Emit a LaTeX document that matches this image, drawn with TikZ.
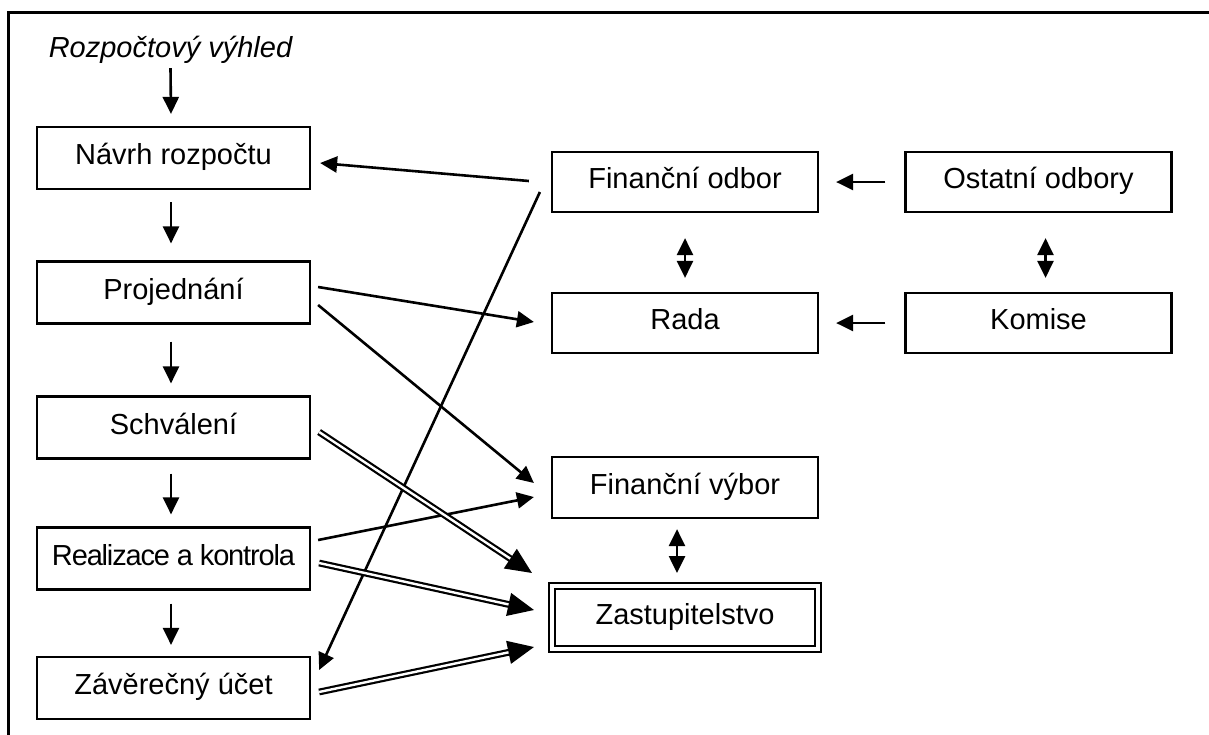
\documentclass[tikz,border=0pt]{standalone}
\usepackage{fontspec}
\setmainfont{Liberation Sans}
\usetikzlibrary{calc,arrows.meta}
\newfontfamily\narrowfont[LetterSpace=-4]{Liberation Sans}
\tikzset{
  box/.style={draw, line width=1.1pt, inner sep=0pt, minimum height=31pt, text height=10.4pt, text depth=3.5pt},
  lbox/.style={box, minimum width=136.5pt},
  rbox/.style={box, minimum width=133pt, minimum height=30pt},
  arr/.style={-{Triangle[length=8.5pt,width=8pt]}, line width=1.3pt},
  twoway/.style={{Triangle[length=8.5pt,width=8pt]}-{Triangle[length=8.5pt,width=8pt]}, line width=1.3pt},
  dbl/.style={double, double distance=1.2pt, line width=1.1pt, -{Triangle[length=13pt,width=11.5pt]}},
  every node/.style={font=\fontsize{14.5}{17}\selectfont}
}
\begin{document}
\begin{tikzpicture}[x=0.5pt,y=-0.5pt]
  \useasboundingbox (0,0) rectangle (1209,734);
  % frame (only top and left edge are on the page)
  \draw[line width=1.5pt] (8,740) -- (8,12) -- (1215,12);

  % left column
  \node[font=\fontsize{14.5}{17}\selectfont\itshape, inner sep=0pt] (vyhled) at (170.5,50) {Rozpočtový výhled};
  \node[lbox] (navrh)  at (173.5,158)   {Návrh rozpočtu};
  \node[lbox] (projed) at (173.5,292.5) {Projednání};
  \node[lbox] (schval) at (173.5,427.5) {Schválení};
  \node[lbox] (real)   at (173.5,558.5) {\narrowfont Realizace a kontrola};
  \node[lbox] (zaver)  at (173.5,688)   {Závěrečný účet};

  % right part
  \node[rbox] (finodb)  at (685,182)    {Finanční odbor};
  \node[rbox] (rada)    at (685,323)    {Rada};
  \node[rbox] (ostatni) at (1038.5,182) {Ostatní odbory};
  \node[rbox] (komise)  at (1038.5,323) {Komise};
  \node[rbox, minimum height=30.5pt] (finvyb) at (685,487.5) {Finanční výbor};
  \node[rbox, minimum height=31.5pt, double, double distance=2pt, line width=1pt] (zastup) at (685,617.5) {Zastupitelstvo};

  % flow down the left column
  \draw[arr] ($(vyhled.south)+(0,4)$) -- ($(navrh.north)+(-2.5,-12)$);
  \draw[arr] ($(navrh.south)+(-2.5,12)$) -- ($(projed.north)+(-2.5,-17)$);
  \draw[arr] ($(projed.south)+(-2.5,17)$) -- ($(schval.north)+(-2.5,-12)$);
  \draw[arr] ($(schval.south)+(-2.5,14)$) -- ($(real.north)+(-2.5,-12)$);
  \draw[arr] ($(real.south)+(-2.5,13)$) -- ($(zaver.north)+(-2.5,-11)$);

  % right side
  \draw[arr] ($(ostatni.west)+(-19,0)$) -- ($(finodb.east)+(17,0)$);
  \draw[arr] ($(komise.west)+(-19,0)$) -- ($(rada.east)+(17,0)$);
  \draw[twoway] ($(finodb.south)+(0,25)$) -- ($(rada.north)+(0,-14)$);
  \draw[twoway] ($(ostatni.south)+(7,25)$) -- ($(komise.north)+(7,-14)$);
  \draw[twoway] ($(finvyb.south)+(-8,10)$) -- ($(zastup.north)+(-8,-12)$);

  % long connectors
  \draw[arr] ($(finodb.west)+(-22,-1)$) -- ($(navrh.east)+(9,5)$);
  \draw[arr] ($(finodb.west)+(-11,10)$) -- ($(zaver.east)+(8,-18)$);
  \draw[arr] ($(projed.east)+(7,-5.5)$) -- ($(rada.west)+(-17,-1)$);
  \draw[arr] ($(projed.east)+(7,12.5)$) -- ($(finvyb.west)+(-17,-4.5)$);
  \draw[arr] ($(real.east)+(7,-18.5)$) -- ($(finvyb.west)+(-17,9.5)$);
  \draw[dbl] ($(schval.east)+(8,4.5)$) -- ($(zastup.west)+(-19,-44.5)$);
  \draw[dbl] ($(real.east)+(8,4.5)$) -- ($(zastup.west)+(-17,-7.5)$);
  \draw[dbl] ($(zaver.east)+(8,4)$) -- ($(zastup.west)+(-17,29.5)$);
\end{tikzpicture}
\end{document}
